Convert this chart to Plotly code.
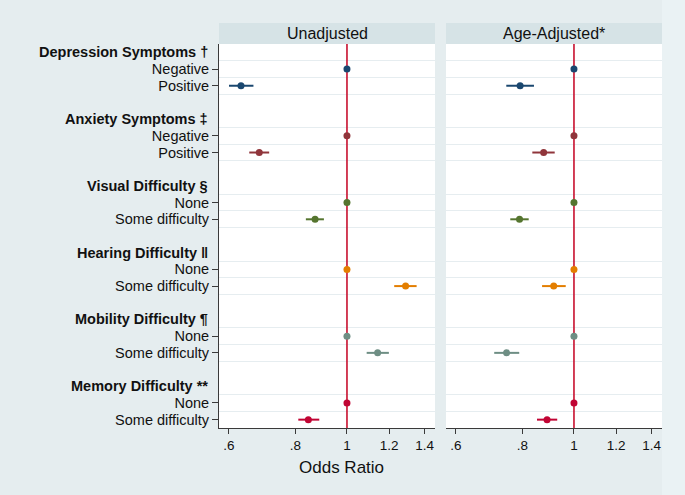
import math
import plotly.graph_objects as go

# ---------------- data ----------------
groups = ["Depression Symptoms †", "Anxiety Symptoms ‡", "Visual Difficulty §",
          "Hearing Difficulty ‖", "Mobility Difficulty ¶", "Memory Difficulty **"]
ref_levels = ["Negative", "Negative", "None", "None", "None", "None"]
cmp_levels = ["Positive", "Positive", "Some difficulty", "Some difficulty",
              "Some difficulty", "Some difficulty"]
colors = ["#1a476f", "#90353b", "#55752f", "#e37e00", "#6e8e84", "#c10534"]

ref_or = [1.0, 1.0, 1.0, 1.0, 1.0, 1.0]

unadj_or = [0.632, 0.684, 0.871, 1.289, 1.142, 0.846]
unadj_lo = [0.600, 0.655, 0.837, 1.227, 1.089, 0.810]
unadj_hi = [0.667, 0.714, 0.905, 1.352, 1.199, 0.887]

adj_or = [0.792, 0.877, 0.790, 0.916, 0.747, 0.890]
adj_lo = [0.746, 0.835, 0.759, 0.871, 0.708, 0.852]
adj_hi = [0.841, 0.920, 0.822, 0.965, 0.789, 0.930]

panel_titles = ["Unadjusted", "Age-Adjusted*"]
x_tickvals = [0.6, 0.8, 1.0, 1.2, 1.4]
x_ticktext = [".6", ".8", "1", "1.2", "1.4"]
x_title = "Odds Ratio"
null_value = 1.0

# ---------------- layout helpers ----------------
W, H = 685, 495
FONT = "Liberation Sans, Arial, Helvetica, sans-serif"
BG = "#e5edef"
BG_RIGHT = "#eaf2f4"
STRIP = "#d6e3e6"
GRID = "#e6edf0"
AXC = "#3a3a3a"
REDLINE = "#c8102e"

n_groups = len(groups)
header_rows = [4 * g for g in range(n_groups)]
ref_rows = [4 * g + 1 for g in range(n_groups)]
cmp_rows = [4 * g + 2 for g in range(n_groups)]
n_rows = 4 * n_groups - 1
grid_rows = [r + 0.5 for g in range(n_groups) for r in (4 * g, 4 * g + 1, 4 * g + 2)]

px = lambda v: v / W
py = lambda v: 1 - v / H

dom1 = [px(219), px(435)]
dom2 = [px(446), px(662)]
ydom = [py(428), py(44)]
xrange_log = [math.log10(0.5746), math.log10(1.464)]

fig = go.Figure()

panels = [(unadj_or, unadj_lo, unadj_hi), (adj_or, adj_lo, adj_hi)]
for p, (orv, lo, hi) in enumerate(panels):
    xa = "x" if p == 0 else "x2"
    ya = "y" if p == 0 else "y2"
    # vertical reference line at OR = 1
    fig.add_trace(go.Scatter(
        x=[null_value, null_value], y=[-0.5, n_rows - 0.5], mode="lines",
        line=dict(color=REDLINE, width=1.6), xaxis=xa, yaxis=ya,
        showlegend=False, hoverinfo="skip"))
    for g in range(n_groups):
        # comparison row with CI
        fig.add_trace(go.Scatter(
            x=[orv[g]], y=[cmp_rows[g]], mode="markers",
            marker=dict(color=colors[g], size=7),
            error_x=dict(type="data", symmetric=False,
                         array=[hi[g] - orv[g]], arrayminus=[orv[g] - lo[g]],
                         color=colors[g], thickness=2, width=0),
            xaxis=xa, yaxis=ya, showlegend=False, hoverinfo="skip"))
        # reference row
        fig.add_trace(go.Scatter(
            x=[ref_or[g]], y=[ref_rows[g]], mode="markers",
            marker=dict(color=colors[g], size=7),
            xaxis=xa, yaxis=ya, showlegend=False, hoverinfo="skip"))

common_x = dict(type="log", range=xrange_log, tickvals=x_tickvals, ticktext=x_ticktext,
                showgrid=False, zeroline=False, showline=True, linecolor=AXC, linewidth=1,
                ticks="outside", ticklen=5, tickcolor=AXC,
                tickfont=dict(family=FONT, size=13.5, color="#111"))

ytick_vals = []
ytick_text = []
for g in range(n_groups):
    ytick_vals += [ref_rows[g], cmp_rows[g]]
    ytick_text += [ref_levels[g], cmp_levels[g]]

common_y = dict(range=[n_rows - 0.5, -0.5], showgrid=False, zeroline=False,
                minor=dict(tickvals=grid_rows, showgrid=True, gridcolor=GRID,
                           gridwidth=1.2, ticks=""))

fig.update_layout(
    width=W, height=H, margin=dict(l=0, r=0, t=0, b=0),
    paper_bgcolor=BG, plot_bgcolor="white",
    font=dict(family=FONT, color="#111"),
    xaxis=dict(common_x, domain=dom1, anchor="y"),
    xaxis2=dict(common_x, domain=dom2, anchor="y2"),
    yaxis=dict(common_y, domain=ydom, anchor="x", tickvals=ytick_vals, ticktext=ytick_text,
               ticks="outside", ticklen=6, tickcolor=AXC, showline=True, linecolor=AXC,
               linewidth=1, tickfont=dict(family=FONT, size=14.5, color="#111")),
    yaxis2=dict(common_y, domain=ydom, anchor="x2", showticklabels=False, showline=False,
                ticks=""),
)

shapes = [dict(type="rect", xref="paper", yref="paper", x0=px(662), x1=1, y0=0, y1=1,
               fillcolor=BG_RIGHT, line=dict(width=0), layer="below")]
annotations = []
for p, dom in enumerate([dom1, dom2]):
    shapes.append(dict(type="rect", xref="paper", yref="paper", x0=dom[0], x1=dom[1],
                       y0=py(44), y1=py(23), fillcolor=STRIP, line=dict(width=0)))
    annotations.append(dict(text=panel_titles[p], xref="paper", yref="paper",
                            x=(dom[0] + dom[1]) / 2, y=(py(44) + py(23)) / 2,
                            xanchor="center", yanchor="middle", showarrow=False,
                            font=dict(family=FONT, size=16, color="#111")))

for g in range(n_groups):
    annotations.append(dict(text=f"<b>{groups[g]}</b>", xref="paper", yref="y",
                            x=px(210), y=header_rows[g], xanchor="right", yanchor="middle",
                            showarrow=False, font=dict(family=FONT, size=14.5, color="#111")))

annotations.append(dict(text=x_title, xref="paper", yref="paper", x=px(341.5), y=py(467),
                        xanchor="center", yanchor="middle", showarrow=False,
                        font=dict(family=FONT, size=17, color="#111")))

fig.update_layout(shapes=shapes, annotations=annotations)
fig.write_html("out.html", config={"displayModeBar": False},
               post_script="document.body.style.margin='0';")
